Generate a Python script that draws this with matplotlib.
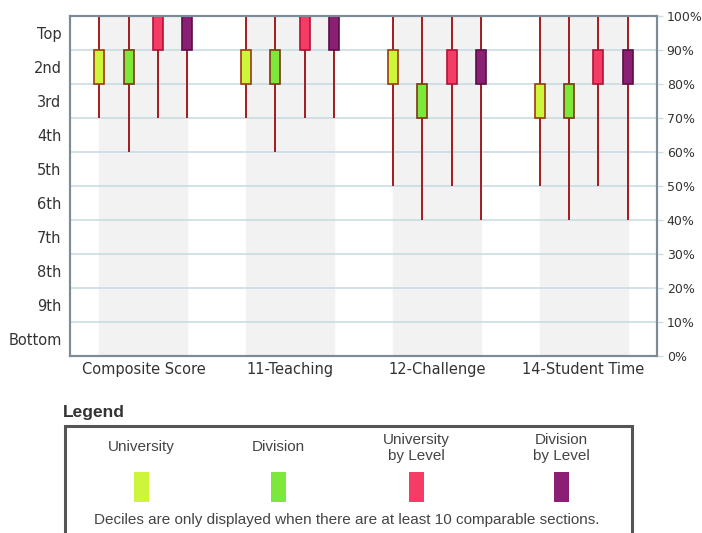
import numpy as np
import matplotlib
matplotlib.use("Agg")
import matplotlib.pyplot as plt
from matplotlib.patches import Rectangle

# Decile chart - box = decile reached, whisker = range down from top
categories = ["Composite Score", "11-Teaching", "12-Challenge", "14-Student Time"]
series = ["University", "Division", "University\nby Level", "Division\nby Level"]
face_colors = ["#cdf53a", "#7be83a", "#f43c64", "#8b1f74"]
edge_colors = ["#9a3c10", "#7a3a10", "#b3123a", "#5a0f48"]

# percent values per series, one entry per category
box_low = {
    "University": [80, 80, 80, 70],
    "Division": [80, 80, 70, 70],
    "University\nby Level": [90, 90, 80, 80],
    "Division\nby Level": [90, 90, 80, 80],
}
box_high = {
    "University": [90, 90, 90, 80],
    "Division": [90, 90, 80, 80],
    "University\nby Level": [100, 100, 90, 90],
    "Division\nby Level": [100, 100, 90, 90],
}
whisker_low = {
    "University": [70, 70, 50, 50],
    "Division": [60, 60, 40, 40],
    "University\nby Level": [70, 70, 50, 50],
    "Division\nby Level": [70, 70, 40, 40],
}
whisker_high = [100, 100, 100, 100]

left_labels = ["Top", "2nd", "3rd", "4th", "5th", "6th", "7th", "8th", "9th", "Bottom"]
right_labels = [f"{v}%" for v in range(0, 101, 10)]

W, H = 702, 533
fig = plt.figure(figsize=(W / 100, H / 100), dpi=100)
ax = fig.add_axes([70 / W, 1 - 356 / H, 587 / W, 340 / H])

x = np.arange(len(categories)) + 0.5
offsets = [-0.3, -0.1, 0.1, 0.3]
box_w = 0.068

# gray band behind each group
for xc in x:
    ax.axvspan(xc + offsets[0], xc + offsets[-1], color="#f2f2f2", zorder=0)

for v in range(10, 100, 10):
    ax.axhline(v, color="#c9dde2", lw=1.2, zorder=1)

for i, s in enumerate(series):
    xs = x + offsets[i]
    ax.vlines(xs, whisker_low[s], whisker_high, color="#a01c1f", lw=1.4, zorder=2)
    lo = np.array(box_low[s])
    hi = np.array(box_high[s])
    ax.bar(xs, hi - lo, bottom=lo, width=box_w, color=face_colors[i],
           edgecolor=edge_colors[i], linewidth=1.2, zorder=3)

ax.set_xlim(0, len(categories))
ax.set_ylim(0, 100)
ax.set_xticks(x)
ax.set_xticklabels(categories)
ax.set_yticks(np.arange(95, 0, -10))
ax.set_yticklabels(left_labels)
ax.tick_params(axis="x", length=0, pad=4, labelsize=10.5, labelcolor="#333333")
ax.tick_params(axis="y", length=0, pad=6, labelsize=10.5, labelcolor="#333333")

ax2 = ax.twinx()
ax2.set_ylim(0, 100)
ax2.set_yticks(range(0, 101, 10))
ax2.set_yticklabels(right_labels)
ax2.tick_params(axis="y", length=4, width=1, color="#c9dde2", pad=3,
                labelsize=9, labelcolor="#333333")

for a in (ax, ax2):
    for sp in a.spines.values():
        sp.set_color("#7d8b97")
        sp.set_linewidth(1.5)

# ---------------- Legend ----------------
fig.text(63 / W, 1 - 412 / H, "Legend", fontsize=12.5, fontweight="bold",
         family="Liberation Sans", color="#333333", va="center")
fig.patches.append(Rectangle((65 / W, -0.05), 567 / W, 0.05 + 1 - 426 / H,
                             transform=fig.transFigure, fill=False,
                             edgecolor="#555555", linewidth=2.2))
legend_x = [141, 278, 416, 561]
for i, s in enumerate(series):
    cx = legend_x[i] / W
    ly = 1 - 447 / H if "\n" not in s else 1 - 448 / H
    fig.text(cx, ly, s, ha="center", va="center", fontsize=11,
             family="Liberation Sans", color="#444444", linespacing=1.15)
    fig.patches.append(Rectangle((cx - 7.5 / W, 1 - 502 / H), 15 / W, 30 / H,
                                 transform=fig.transFigure,
                                 facecolor=face_colors[i], edgecolor="none"))
fig.text(347 / W, 1 - 520 / H,
         "Deciles are only displayed when there are at least 10 comparable sections.",
         ha="center", va="center", fontsize=11, family="Liberation Sans",
         color="#444444")

fig.savefig("out.png", dpi=100)
